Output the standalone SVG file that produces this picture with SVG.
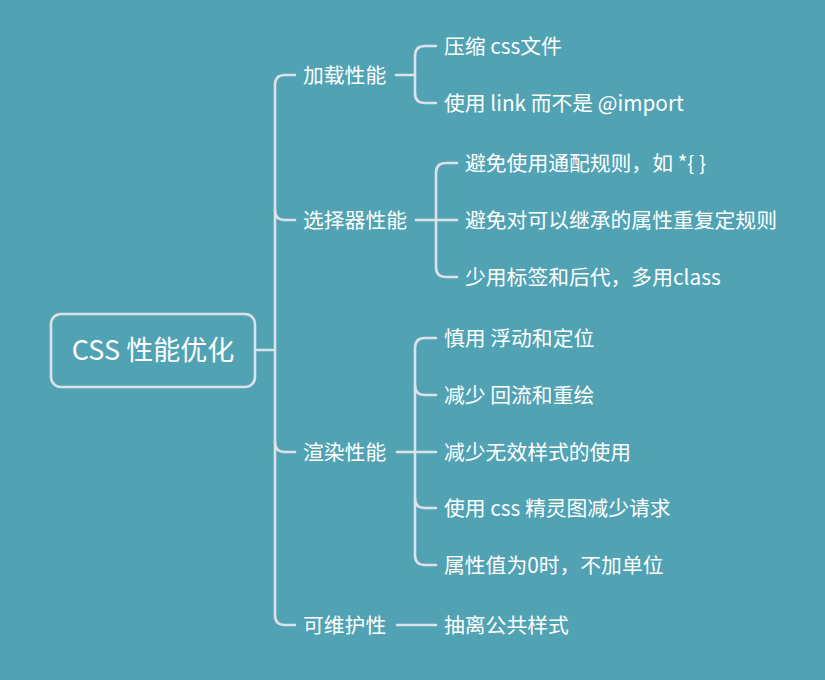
<svg xmlns="http://www.w3.org/2000/svg" width="825" height="680" viewBox="0 0 825 680">
<style>
.ln{fill:none;stroke:#dde1e8;stroke-width:2.6;stroke-linecap:round}
.t{font-family:"Noto Sans CJK SC","Microsoft YaHei",sans-serif;font-size:20.8px;fill:#ffffff}
.root{font-family:"Noto Sans CJK SC","Microsoft YaHei",sans-serif;font-size:27px;fill:#ffffff}
</style>
<rect width="825" height="680" fill="#51a3b4"/>
<g id="connectors">
<path class="ln" d="M255,350 H275"/>
<path class="ln" d="M295,75 H285 Q275,75 275,85 V615 Q275,625 285,625 H295"/>
<path class="ln" d="M275,210 Q275,220 285,220 H295"/>
<path class="ln" d="M275,442 Q275,452 285,452 H295"/>
<path class="ln" d="M396,75 H415"/>
<path class="ln" d="M436,46 H425 Q415,46 415,56 V93 Q415,103 425,103 H436"/>
<path class="ln" d="M416,220 H457"/>
<path class="ln" d="M457,163 H446 Q436,163 436,173 V267 Q436,277 446,277 H457"/>
<path class="ln" d="M397,452 H436"/>
<path class="ln" d="M436,338 H425 Q415,338 415,348 V555 Q415,565 425,565 H436"/>
<path class="ln" d="M415,385 Q415,395 425,395 H436"/>
<path class="ln" d="M415,498 Q415,508 425,508 H436"/>
<path class="ln" d="M397,625 H436"/>
</g>
<g id="root"><rect x="51" y="314" width="204" height="73" rx="10" fill="none" stroke="#dde1e8" stroke-width="2.6"/><text class="root" x="153" y="360" text-anchor="middle">CSS 性能优化</text></g>
<g id="n1"><text class="t" x="303" y="83">加载性能</text></g>
<g id="n1a"><text class="t" x="444" y="54">压缩 css文件</text></g>
<g id="n1b"><text class="t" x="444" y="111">使用 link 而不是 @import</text></g>
<g id="n2"><text class="t" x="303" y="228">选择器性能</text></g>
<g id="n2a"><text class="t" x="465" y="171">避免使用通配规则，如 *{ }</text></g>
<g id="n2b"><text class="t" x="465" y="228">避免对可以继承的属性重复定规则</text></g>
<g id="n2c"><text class="t" x="465" y="285">少用标签和后代，多用class</text></g>
<g id="n3"><text class="t" x="303" y="460">渲染性能</text></g>
<g id="n3a"><text class="t" x="444" y="346">慎用 浮动和定位</text></g>
<g id="n3b"><text class="t" x="444" y="403">减少 回流和重绘</text></g>
<g id="n3c"><text class="t" x="444" y="460">减少无效样式的使用</text></g>
<g id="n3d"><text class="t" x="444" y="516">使用 css 精灵图减少请求</text></g>
<g id="n3e"><text class="t" x="444" y="573">属性值为0时，不加单位</text></g>
<g id="n4"><text class="t" x="303" y="633">可维护性</text></g>
<g id="n4a"><text class="t" x="444" y="633">抽离公共样式</text></g>
</svg>
